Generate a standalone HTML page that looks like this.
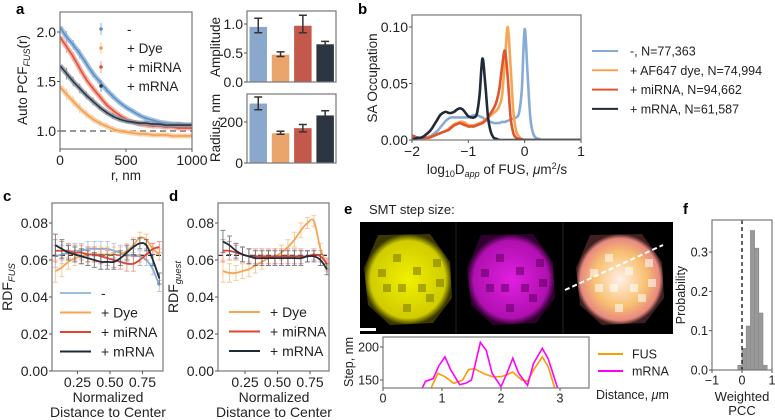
<!DOCTYPE html>
<html><head><meta charset="utf-8"><style>
html,body{margin:0;padding:0;background:#fff;}
svg{display:block;font-family:"Liberation Sans",sans-serif;}
</style></head><body>
<svg id="fig" width="775" height="420" viewBox="0 0 775 420" xmlns="http://www.w3.org/2000/svg">
<defs>
<clipPath id="clipA"><rect x="60" y="12" width="132" height="137"/></clipPath>
<clipPath id="clipB"><rect x="412" y="15" width="169" height="125"/></clipPath>
<clipPath id="clipE"><rect x="383" y="337" width="206" height="51"/></clipPath>
<radialGradient id="gY" cx="50%" cy="50%" r="50%"><stop offset="0" stop-color="#f2f000"/><stop offset="0.85" stop-color="#d0cc00"/><stop offset="1" stop-color="#3a3800"/></radialGradient>
<radialGradient id="gM" cx="50%" cy="50%" r="50%"><stop offset="0" stop-color="#e020e0"/><stop offset="0.85" stop-color="#b010b0"/><stop offset="1" stop-color="#300030"/></radialGradient>
<radialGradient id="gC" cx="50%" cy="50%" r="50%"><stop offset="0" stop-color="#fff0e8"/><stop offset="0.6" stop-color="#f8c070"/><stop offset="0.9" stop-color="#e88a80"/><stop offset="1" stop-color="#402020"/></radialGradient>
</defs>
</svg>
<script>
// ---------- DATA ----------
// panel a
const aR = [0,50,100,150,200,250,300,350,400,450,500,550,600,650,700,750,800,850,900,950,1000];
const aBlue = [2.05,1.95,1.87,1.78,1.68,1.58,1.50,1.42,1.35,1.29,1.24,1.20,1.16,1.13,1.11,1.09,1.08,1.07,1.07,1.06,1.06];
const aDye = [1.45,1.37,1.30,1.23,1.17,1.12,1.08,1.05,1.02,1.00,0.99,0.98,0.97,0.97,0.96,0.96,0.96,0.95,0.95,0.95,0.95];
const aMi = [1.95,1.85,1.75,1.63,1.52,1.43,1.35,1.27,1.21,1.16,1.12,1.09,1.07,1.06,1.05,1.05,1.04,1.04,1.03,1.03,1.03];
const aM = [1.66,1.58,1.50,1.43,1.36,1.30,1.24,1.19,1.15,1.12,1.10,1.09,1.08,1.08,1.07,1.07,1.06,1.06,1.06,1.06,1.06];
const aErr = [0.06,0.06,0.05,0.05,0.04,0.04,0.03,0.03,0.03,0.02,0.02,0.02,0.02,0.02,0.02,0.02,0.02,0.02,0.02,0.02,0.02];
const aXTicks = [0,500,1000];
const aYTicks = [1.0,1.5,2.0];
const ampVals = [0.95,0.47,0.97,0.65];
const ampLo = [0.85,0.44,0.85,0.62];
const ampHi = [1.10,0.52,1.15,0.70];
const radVals = [290,145,170,232];
const radLo = [260,140,152,215];
const radHi = [322,155,188,255];
// panel b
const bX = [-2.00,-1.95,-1.90,-1.85,-1.80,-1.75,-1.70,-1.65,-1.60,-1.55,-1.50,-1.45,-1.40,-1.35,-1.30,-1.25,-1.20,-1.15,-1.10,-1.05,-1.00,-0.95,-0.90,-0.85,-0.80,-0.75,-0.70,-0.65,-0.60,-0.55,-0.50,-0.45,-0.40,-0.35,-0.30,-0.25,-0.20,-0.15,-0.10,-0.05,0.00,0.05,0.10,0.15,0.20,0.25,0.30,0.35,0.40,1.00];
const bBlue = [0,0,.001,.001,.001,.002,.003,.004,.006,.008,.011,.014,.017,.019,.020,.020,.020,.020,.020,.020,.020,.021,.022,.022,.021,.020,.018,.017,.016,.015,.015,.015,.016,.016,.017,.018,.019,.020,.024,.045,.098,.060,.020,.006,.002,.001,0,0,0,0];
const bDye = [.003,.002,.002,.002,.002,.002,.003,.003,.004,.005,.006,.007,.008,.010,.012,.014,.015,.016,.016,.015,.013,.013,.013,.014,.015,.016,.018,.020,.022,.024,.026,.030,.040,.070,.100,.065,.025,.008,.003,.001,0,0,0,0,0,0,0,0,0,0];
const bMi = [.004,.003,.002,.002,.002,.002,.002,.003,.004,.005,.006,.007,.008,.009,.011,.013,.014,.015,.014,.013,.012,.012,.012,.013,.014,.015,.017,.020,.024,.028,.034,.045,.065,.079,.055,.020,.006,.002,.001,0,0,0,0,0,0,0,0,0,0,0];
const bM = [.001,.001,.002,.002,.003,.005,.007,.010,.014,.018,.022,.024,.025,.024,.024,.025,.027,.028,.027,.024,.021,.020,.020,.023,.040,.072,.050,.020,.007,.002,.001,0,0,0,0,0,0,0,0,0,0,0,0,0,0,0,0,0,0,0];
const bXTicks = [-2,-1,0,1];
const bYTicks = [0.00,0.05,0.10];
const bLegend = ["-, N=77,363","+ AF647 dye, N=74,994","+ miRNA, N=94,662","+ mRNA, N=61,587"];
// panel c / d
const cdX = [0.08,0.13,0.18,0.23,0.28,0.33,0.38,0.43,0.48,0.53,0.58,0.63,0.68,0.73,0.78,0.83,0.88];
const cBlue = [0.062,0.063,0.064,0.065,0.065,0.066,0.066,0.066,0.066,0.065,0.064,0.063,0.062,0.062,0.060,0.055,0.046];
const cDye = [0.054,0.056,0.059,0.061,0.062,0.063,0.063,0.063,0.063,0.063,0.063,0.065,0.068,0.072,0.071,0.066,0.063];
const cMi = [0.065,0.065,0.065,0.064,0.064,0.063,0.063,0.062,0.061,0.060,0.059,0.058,0.058,0.060,0.063,0.066,0.067];
const cM = [0.068,0.066,0.064,0.063,0.062,0.061,0.060,0.059,0.059,0.059,0.061,0.064,0.067,0.069,0.068,0.060,0.050];
const dDye = [0.054,0.053,0.053,0.054,0.055,0.057,0.059,0.061,0.062,0.064,0.067,0.071,0.076,0.080,0.081,0.066,0.057];
const dMi = [0.065,0.065,0.064,0.063,0.062,0.062,0.062,0.062,0.062,0.062,0.062,0.062,0.062,0.062,0.063,0.062,0.058];
const dM = [0.070,0.068,0.065,0.063,0.062,0.061,0.061,0.061,0.061,0.061,0.061,0.061,0.061,0.062,0.062,0.060,0.055];
const cdErr = [0.006,0.005,0.004,0.004,0.004,0.004,0.004,0.004,0.004,0.004,0.004,0.004,0.004,0.003,0.003,0.003,0.003];
const cdXTicks = [0.25,0.50,0.75];
const cdYTicks = [0.00,0.02,0.04,0.06,0.08];
// panel e line plot
const eFusX = [0.80,0.93,1.05,1.20,1.35,1.45,1.55,1.70,1.85,2.00,2.10,2.20,2.35,2.45,2.55,2.70,2.80,2.92];
const eFusY = [135,160,155,145,150,166,167,160,155,155,158,162,150,148,165,185,170,135];
const eMX = [0.65,0.72,0.85,0.95,1.05,1.15,1.30,1.40,1.50,1.65,1.75,1.85,2.00,2.10,2.20,2.30,2.45,2.55,2.70,2.80,2.97];
const eMY = [135,148,152,172,185,165,143,145,150,207,195,160,140,160,183,160,142,175,198,182,135];
const eXTicks = [0,1,2,3];
const eYTicks = [150,200];
// panel f histogram
const fEdges = [-0.14,0.00,0.14,0.28,0.42,0.56,0.70,0.84];
const fProb = [0.012,0.055,0.112,0.355,0.31,0.145,0.012];
const fXTicks = [-1,0,1];
const fYTicks = [0.0,0.1,0.2,0.3];

// ---------- HELPERS ----------
const NS = "http://www.w3.org/2000/svg";
const svg = document.getElementById('fig');
function mk(tag, attrs) {
  const e = document.createElementNS(NS, tag);
  for (const k in attrs) e.setAttribute(k, attrs[k]);
  svg.appendChild(e);
  return e;
}
function txt(x, y, s, size, anchor, extra) {
  const e = mk('text', Object.assign({x: x, y: y, 'font-size': size, 'text-anchor': anchor || 'middle', fill: '#222'}, extra || {}));
  e.textContent = s;
  return e;
}
function smooth(pts) {
  if (pts.length < 2) return '';
  let d = 'M' + pts[0][0].toFixed(2) + ',' + pts[0][1].toFixed(2);
  for (let i = 0; i < pts.length - 1; i++) {
    const p0 = pts[i - 1] || pts[i], p1 = pts[i], p2 = pts[i + 1], p3 = pts[i + 2] || p2;
    const c1x = p1[0] + (p2[0] - p0[0]) / 6, c1y = p1[1] + (p2[1] - p0[1]) / 6;
    const c2x = p2[0] - (p3[0] - p1[0]) / 6, c2y = p2[1] - (p3[1] - p1[1]) / 6;
    d += ' C' + c1x.toFixed(2) + ',' + c1y.toFixed(2) + ' ' + c2x.toFixed(2) + ',' + c2y.toFixed(2) + ' ' + p2[0].toFixed(2) + ',' + p2[1].toFixed(2);
  }
  return d;
}
function box(x, y, w, h, name) {
  const r = mk('rect', {x: x, y: y, width: w, height: h, fill: 'none', stroke: '#777', 'stroke-width': 1.2});
  
  
}
function xtick(x, y, label, size, name) {
  const l = mk('line', {x1: x, x2: x, y1: y, y2: y + 3, stroke: '#555'});
  
  
  const t = txt(x, y + 4 + size * 0.85, label, size);
  
  
}
function ytick(x, y, label, size, name) {
  const l = mk('line', {x1: x - 3, x2: x, y1: y, y2: y, stroke: '#555'});
  
  
  const t = txt(x - 4, y + size * 0.35, label, size, 'end');
  
  
}
function letter(x, y, s) {
  const t = txt(x, y, s, 15, 'start', {'font-weight': 'bold', fill: '#000'});
  
  
}

// ---------- PANEL A ----------
const xA = r => 60 + r / 1000 * 132;
const yA = v => 131 - (v - 1) / 0.5 * 49.5;
letter(16, 14, 'a');
const dashA = mk('line', {x1: 60, x2: 192, y1: yA(1), y2: yA(1), stroke: '#777', 'stroke-width': 1.5, 'stroke-dasharray': '6,4'});


const aSeries = [[aBlue, '#8fb4dc', '#5a8fc8', 'blue'], [aDye, '#f8c898', '#f0a050', 'dye'], [aMi, '#f0a090', '#e0503a', 'mirna'], [aM, '#8a93a0', '#2a3545', 'mrna']];
aSeries.forEach(s => {
  const pts = aR.map((r, i) => [xA(r), yA(s[0][i])]);
  const band = mk('path', {d: smooth(pts), fill: 'none', stroke: s[1], 'stroke-width': 5, 'clip-path': 'url(#clipA)', opacity: 0.8});
  
  
  aR.forEach((r, i) => {
    const eb = mk('line', {x1: xA(r), x2: xA(r), y1: yA(s[0][i] - aErr[i]), y2: yA(s[0][i] + aErr[i]), stroke: s[1], 'stroke-width': 1, 'clip-path': 'url(#clipA)'});
    
    
  });
  const ln = mk('path', {d: smooth(pts), fill: 'none', stroke: s[2], 'stroke-width': 1.6, 'clip-path': 'url(#clipA)'});
  
  
});
box(60, 12, 132, 137, 'a-plot-frame');
aXTicks.forEach(v => xtick(xA(v), 149, String(v), 14, 'a-x-tick'));
aYTicks.forEach(v => ytick(60, yA(v), v.toFixed(1), 14, 'a-y-tick'));
let t;
t = txt(126, 180, 'r, nm', 13.5);


t = mk('text', {x: 0, y: 0, 'font-size': 13.5, 'text-anchor': 'middle', fill: '#222', transform: 'translate(27,80) rotate(-90)'});
t.innerHTML = 'Auto PCF<tspan font-size="9" font-style="italic" dy="3">FUS</tspan><tspan dy="-3">(r)</tspan>';


const aLeg = ['-', '+ Dye', '+ miRNA', '+ mRNA'];
aLeg.forEach((s, i) => {
  const y = 29 + i * 19;
  const c = aSeries[i][2];
  const m = mk('line', {x1: 101, x2: 101, y1: y - 6, y2: y + 6, stroke: aSeries[i][1], 'stroke-width': 1});
  
  
  const d = mk('circle', {cx: 101, cy: y, r: 1.8, fill: c});
  
  
  const tt = txt(127, y + 5, s, 13.5, 'start');
  
  
});
// bars
const barCols = ['#8aa8cc', '#eaa56c', '#c4594b', '#2c3643'];
const barX = i => 247 + 2.5 + i * 22.3;
const yAmp = v => 82 - v / 0.5 * 29;
const yRad = v => 163 - v / 200 * 41;
ampVals.forEach((v, i) => {
  const b = mk('rect', {x: barX(i), y: yAmp(v), width: 17.5, height: 82 - yAmp(v), fill: barCols[i]});
  
  
  const cx = barX(i) + 8.75;
  const e = mk('path', {d: `M${cx - 4},${yAmp(ampHi[i])}H${cx + 4}M${cx},${yAmp(ampHi[i])}V${yAmp(ampLo[i])}M${cx - 4},${yAmp(ampLo[i])}H${cx + 4}`, stroke: '#333', 'stroke-width': 1.5, fill: 'none'});
  
  
});
radVals.forEach((v, i) => {
  const b = mk('rect', {x: barX(i), y: yRad(v), width: 17.5, height: 163 - yRad(v), fill: barCols[i]});
  
  
  const cx = barX(i) + 8.75;
  const e = mk('path', {d: `M${cx - 4},${yRad(radHi[i])}H${cx + 4}M${cx},${yRad(radHi[i])}V${yRad(radLo[i])}M${cx - 4},${yRad(radLo[i])}H${cx + 4}`, stroke: '#333', 'stroke-width': 1.5, fill: 'none'});
  
  
});
box(247, 11, 89, 71, 'amplitude-plot-frame');
box(247, 94, 89, 69, 'radius-plot-frame');
[0.0, 0.5, 1.0].forEach(v => ytick(247, yAmp(v), v.toFixed(1), 14, 'amplitude-y-tick'));
[0, 200].forEach(v => ytick(247, yRad(v), String(v), 14, 'radius-y-tick'));
t = txt(0, 0, 'Amplitude', 13.5, 'middle', {transform: 'translate(220,47) rotate(-90)'});


t = txt(0, 0, 'Radius, nm', 13.5, 'middle', {transform: 'translate(220,128) rotate(-90)'});



// ---------- PANEL B ----------
const xB = v => 412 + (v + 2) * 56.33;
const yB = v => 140 - v * 1130;
letter(358, 14, 'b');
const bSeries = [[bBlue, '#86acd6', 'blue'], [bDye, '#f8a450', 'dye'], [bMi, '#e0542e', 'mirna'], [bM, '#1f2a38', 'mrna']];
bSeries.forEach(s => {
  const p = mk('path', {d: smooth(bX.map((x, i) => [xB(x), yB(s[0][i])])), fill: 'none', stroke: s[1], 'stroke-width': 2.6, 'clip-path': 'url(#clipB)', 'stroke-linejoin': 'round'});
  
  
});
box(412, 15, 169, 125, 'b-plot-frame');
bXTicks.forEach(v => xtick(xB(v), 140, v < 0 ? '\u2212' + Math.abs(v) : String(v), 14, 'b-x-tick'));
bYTicks.forEach(v => ytick(412, yB(v), v.toFixed(2), 14, 'b-y-tick'));
t = mk('text', {x: 497, y: 174, 'font-size': 13.5, 'text-anchor': 'middle', fill: '#222'});
t.innerHTML = 'log<tspan font-size="9" dy="3">10</tspan><tspan dy="-3">D</tspan><tspan font-size="9" font-style="italic" dy="3">app</tspan><tspan dy="-3"> of FUS, </tspan><tspan font-style="italic">μ</tspan>m<tspan font-size="9" dy="-5">2</tspan><tspan dy="5">/s</tspan>';


t = txt(0, 0, 'SA Occupation', 13.5, 'middle', {transform: 'translate(377,78) rotate(-90)'});


bLegend.forEach((s, i) => {
  const y = 51 + i * 19.3;
  const l = mk('line', {x1: 592, x2: 618, y1: y, y2: y, stroke: bSeries[i][1], 'stroke-width': 2});
  
  
  const tt = txt(630, y + 4.5, s, 12.5, 'start');
  
  
});

// ---------- PANELS C & D ----------
const yCD = v => 371 - v * 1850;
function rdfPanel(prefix, left, x0, series, legends, legY, ylabelSub, lx) {
  const xs = v => left + (v - x0) * 130;
  const dl = mk('line', {x1: left, x2: left + 111, y1: yCD(0.0625), y2: yCD(0.0625), stroke: '#333', 'stroke-width': 1.3, 'stroke-dasharray': '5,3'});
  
  
  series.forEach(s => {
    cdX.forEach((x, i) => {
      const cx = xs(x), y1 = yCD(s[0][i] - cdErr[i]), y2 = yCD(s[0][i] + cdErr[i]);
      const e = mk('path', {d: `M${cx - 2.5},${y2}H${cx + 2.5}M${cx},${y2}V${y1}M${cx - 2.5},${y1}H${cx + 2.5}`, stroke: s[2], 'stroke-width': 1, fill: 'none', opacity: 0.75});
      
      
    });
    const p = mk('path', {d: smooth(cdX.map((x, i) => [xs(x), yCD(s[0][i])])), fill: 'none', stroke: s[1], 'stroke-width': 1.8});
    
    
  });
  box(left, 203, 111, 168, prefix + '-plot-frame');
  cdXTicks.forEach(v => xtick(xs(v), 371, v.toFixed(2), 14, prefix + '-x-tick'));
  cdYTicks.forEach(v => ytick(left, yCD(v), v.toFixed(2), 14, prefix + '-y-tick'));
  let a = txt(left + 56, 402, 'Normalized', 14);
  
  
  a = txt(left + 56, 417, 'Distance to Center', 14);
  
  
  a = mk('text', {x: 0, y: 0, 'font-size': 14, 'text-anchor': 'middle', fill: '#222', transform: `translate(${left - 40},287) rotate(-90)`});
  a.innerHTML = 'RDF<tspan font-size="9.5" font-style="italic" dy="3">' + ylabelSub + '</tspan>';
  
  
  legends.forEach((s, i) => {
    const y = legY + i * 19.5;
    const l = mk('line', {x1: lx, x2: lx + 31, y1: y, y2: y, stroke: s[1], 'stroke-width': 2});
    
    
    const tt = txt(lx + 41, y + 5, s[0], 14, 'start');
    
    
  });
}
letter(3, 201, 'c');
rdfPanel('c', 52, 0.054, [[cBlue, '#86acd6', '#9cbce0', 'blue'], [cDye, '#f8a450', '#f8b878', 'dye'], [cMi, '#e0442e', '#e88070', 'mirna'], [cM, '#1f2a38', '#505a68', 'mrna']],
  [['-', '#9cbce0'], ['+ Dye', '#f8a450'], ['+ miRNA', '#e0442e'], ['+ mRNA', '#1f2a38']], 293, 'FUS', 60);
letter(169, 201, 'd');
rdfPanel('d', 218, 0.042, [[dDye, '#f8a450', '#f8b878', 'dye'], [dMi, '#e0442e', '#e88070', 'mirna'], [dM, '#1f2a38', '#505a68', 'mrna']],
  [['+ Dye', '#f8a450'], ['+ miRNA', '#e0442e'], ['+ mRNA', '#1f2a38']], 312, 'guest', 229);

// ---------- PANEL E ----------
letter(344, 214, 'e');
t = txt(369, 214, 'SMT step size:', 13, 'start');


const img = mk('rect', {x: 360, y: 222, width: 313, height: 112, fill: '#000'});


[[408, 'url(#gY)', 'fus-image', '#7a7800'], [511, 'url(#gM)', 'mrna-image', '#600060'], [620, 'url(#gC)', 'merge-image', '#ffffff']].forEach((c, k) => {
  const g = mk('path', {d: `M${c[0] - 30},235 L${c[0] + 22},234 L${c[0] + 42},262 L${c[0] + 44},298 L${c[0] + 25},323 L${c[0] - 18},325 L${c[0] - 40},305 L${c[0] - 44},268 Z`, fill: c[1]});
  
  
  [[-15, -25], [5, -12], [-25, 5], [18, 15], [-5, 25], [25, -20], [-10, 5], [10, 5], [-30, -10], [28, 0]].forEach(o => {
    const s = mk('rect', {x: c[0] + o[0], y: 279 + o[1], width: 8, height: 8, fill: c[3], opacity: 0.55});
    
    
  });
});
const sep1 = mk('line', {x1: 456, x2: 456, y1: 222, y2: 334, stroke: '#222', 'stroke-width': 1});


const sep2 = mk('line', {x1: 563, x2: 563, y1: 222, y2: 334, stroke: '#222', 'stroke-width': 1});


const cut = mk('line', {x1: 565, x2: 663, y1: 290, y2: 245, stroke: '#fff', 'stroke-width': 2, 'stroke-dasharray': '5,3'});


const sb = mk('rect', {x: 360, y: 328, width: 16, height: 3, fill: '#fff'});


const xE = v => 383 + v * 59;
const yE = v => 380 - (v - 150) * 0.66;
const pF = mk('polyline', {points: eFusX.map((x, i) => xE(x) + ',' + yE(eFusY[i])).join(' '), fill: 'none', stroke: '#ff9900', 'stroke-width': 1.6, 'clip-path': 'url(#clipE)'});


const pM = mk('polyline', {points: eMX.map((x, i) => xE(x) + ',' + yE(eMY[i])).join(' '), fill: 'none', stroke: '#ff00ff', 'stroke-width': 1.6, 'clip-path': 'url(#clipE)'});


box(383, 337, 206, 51, 'e-plot-frame');
eXTicks.forEach(v => xtick(xE(v), 388, String(v), 12.5, 'e-x-tick'));
eYTicks.forEach(v => ytick(383, yE(v), String(v), 12.5, 'e-y-tick'));
t = txt(0, 0, 'Step, nm', 12.5, 'middle', {transform: 'translate(353,362) rotate(-90)'});


t = mk('text', {x: 596, y: 399, 'font-size': 12.5, 'text-anchor': 'start', fill: '#222'});
t.innerHTML = 'Distance, <tspan font-style="italic">μ</tspan>m';


[['FUS', '#ff9900', 354], ['mRNA', '#ff00ff', 371]].forEach(s => {
  const l = mk('line', {x1: 598, x2: 623, y1: s[2], y2: s[2], stroke: s[1], 'stroke-width': 2});
  
  
  const tt = txt(632, s[2] + 4.5, s[0], 12.5, 'start');
  
  
});

// ---------- PANEL F ----------
letter(683, 214, 'f');
const xF = v => 742 + v * 30;
const yF = v => 370 - v * 393;
fProb.forEach((p, i) => {
  const r = mk('rect', {x: xF(fEdges[i]), y: yF(p), width: xF(fEdges[i + 1]) - xF(fEdges[i]), height: 370 - yF(p), fill: '#999', stroke: '#888', 'stroke-width': 0.6});
  
  
});
const fz = mk('line', {x1: xF(0), x2: xF(0), y1: 220, y2: 370, stroke: '#222', 'stroke-width': 1.4, 'stroke-dasharray': '4,3'});


box(712, 220, 60, 150, 'f-plot-frame');
fXTicks.forEach(v => xtick(xF(v), 370, v < 0 ? '\u2212' + Math.abs(v) : String(v), 12.5, 'f-x-tick'));
fYTicks.forEach(v => ytick(712, yF(v), v.toFixed(1), 12.5, 'f-y-tick'));
t = txt(0, 0, 'Probability', 12.5, 'middle', {transform: 'translate(685,295) rotate(-90)'});


t = txt(742, 401, 'Weighted', 13);


t = txt(742, 415, 'PCC', 13);


</script>
</body></html>
